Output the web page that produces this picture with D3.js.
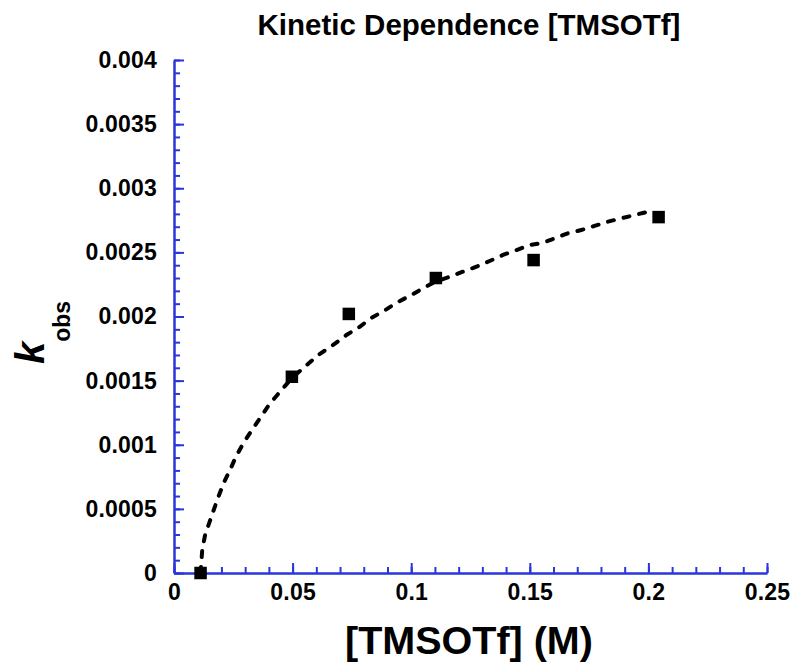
<!DOCTYPE html>
<html>
<head>
<meta charset="utf-8">
<script src="https://cdn.jsdelivr.net/npm/d3@7"></script>
<style>
  body { margin: 0; background: #fff; }
  text { font-family: "Liberation Sans", Arial, Helvetica, sans-serif; font-weight: bold; }
</style>
</head>
<body>
<script>
// Measured points: [TMSOTf] (M) vs k_obs
var concM = [0.0112, 0.0497, 0.0737, 0.1104, 0.1516, 0.2043];
var kObs = [0.0, 0.00153, 0.00202, 0.0023, 0.00244, 0.002775];

// Fitted dashed curve
var fitX = [0.0112, 0.0119, 0.0131, 0.0163, 0.0187, 0.0212, 0.0240, 0.0261, 0.0292, 0.0324,
  0.0362, 0.0400, 0.0447, 0.0497, 0.0552, 0.0608, 0.0671, 0.0727, 0.0783, 0.0830,
  0.0886, 0.0942, 0.1001, 0.1050, 0.1100, 0.1163, 0.1219, 0.1275, 0.1331, 0.1387,
  0.1444, 0.1500, 0.1556, 0.1605, 0.1661, 0.1717, 0.1773, 0.1829, 0.1886, 0.1942,
  0.1998, 0.2009];
var fitY = [0.0, 0.000179, 0.000296, 0.000468, 0.000595, 0.000712, 0.000819, 0.000907, 0.001011, 0.001102,
  0.001206, 0.00131, 0.001414, 0.00152, 0.001609, 0.0017, 0.001778, 0.001856, 0.00192, 0.001986,
  0.002045, 0.002111, 0.002168, 0.00222, 0.00227, 0.00231, 0.00235, 0.002388, 0.002433, 0.00248,
  0.002518, 0.002557, 0.002575, 0.00261, 0.002649, 0.002674, 0.002706, 0.002739, 0.002766, 0.002791,
  0.002817, 0.002827];

var xTicks = [0, 0.05, 0.1, 0.15, 0.2, 0.25];
var yTicks = [0, 0.0005, 0.001, 0.0015, 0.002, 0.0025, 0.003, 0.0035, 0.004];

var svgWidth = 791;
var svgHeight = 666;
var margin = { top: 60, right: 24, bottom: 93, left: 174 };
var chartWidth = 767 - margin.left;
var chartHeight = svgHeight - margin.top - margin.bottom;
var axisColor = "#2b36d9";

var svg = d3.select("body")
  .append("svg")
  .attr("width", svgWidth)
  .attr("height", svgHeight);

var chartGroup = svg.append("g")
  .attr("transform", `translate(${margin.left}, ${margin.top})`);

var xScale = d3.scaleLinear().domain([0, 0.25]).range([0, chartWidth]);
var yScale = d3.scaleLinear().domain([0, 0.004]).range([chartHeight, 0]);

// minor ticks first (5 subdivisions per major)
var xMinor = d3.range(0, 0.2501, 0.01);
var yMinor = d3.range(0, 0.00401, 0.0001);

chartGroup.append("g")
  .attr("class", "minor")
  .attr("transform", `translate(0, ${chartHeight})`)
  .call(d3.axisBottom(xScale).tickValues(xMinor).tickSize(-6).tickSizeOuter(0).tickFormat(""));

chartGroup.append("g")
  .attr("class", "minor")
  .call(d3.axisLeft(yScale).tickValues(yMinor).tickSize(-6).tickSizeOuter(0).tickFormat(""));

var bottomAxis = d3.axisBottom(xScale)
  .tickValues(xTicks)
  .tickSize(-10)
  .tickSizeOuter(0)
  .tickPadding(11)
  .tickFormat(d => d === 0 ? "0" : String(+d.toFixed(3)));

var leftAxis = d3.axisLeft(yScale)
  .tickValues(yTicks)
  .tickSize(-10)
  .tickSizeOuter(0)
  .tickPadding(17)
  .tickFormat(d => d === 0 ? "0" : String(+d.toFixed(4)));

chartGroup.append("g")
  .attr("transform", `translate(0, ${chartHeight})`)
  .call(bottomAxis);

chartGroup.append("g")
  .call(leftAxis);

chartGroup.selectAll(".domain, .tick line")
  .attr("stroke", axisColor)
  .attr("stroke-width", 2);

chartGroup.selectAll(".tick text")
  .attr("fill", "#000")
  .attr("font-size", "23px")
  .style("letter-spacing", "0.2px");

// dashed fit line
var fitData = fitX.map((x, i) => [x, fitY[i]]);
var line = d3.line()
  .x(d => xScale(d[0]))
  .y(d => yScale(d[1]));

chartGroup.append("path")
  .datum(fitData)
  .attr("d", line)
  .attr("fill", "none")
  .attr("stroke", "#000")
  .attr("stroke-width", 4)
  .attr("stroke-linecap", "round")
  .attr("stroke-dasharray", "6,10");

// data squares
var sq = 12.5;
chartGroup.selectAll(".pt")
  .data(concM)
  .enter()
  .append("rect")
  .attr("class", "pt")
  .attr("x", (d, i) => xScale(d) - sq / 2)
  .attr("y", (d, i) => yScale(kObs[i]) - sq / 2)
  .attr("width", sq)
  .attr("height", sq)
  .attr("fill", "#000");

// title
svg.append("text")
  .attr("x", 469)
  .attr("y", 35)
  .attr("text-anchor", "middle")
  .attr("font-size", "29.5px")
  .text("Kinetic Dependence [TMSOTf]");

// x axis label
svg.append("text")
  .attr("x", 469)
  .attr("y", 654)
  .attr("text-anchor", "middle")
  .attr("font-size", "39.5px")
  .text("[TMSOTf] (M)");

// y axis label: k_obs
var yLabel = svg.append("text")
  .attr("transform", "translate(44, 364) rotate(-90)");
yLabel.append("tspan")
  .attr("font-size", "40px")
  .attr("font-style", "italic")
  .text("k");
yLabel.append("tspan")
  .attr("font-size", "23px")
  .attr("dy", 26)
  .text("obs");
</script>
</body>
</html>
